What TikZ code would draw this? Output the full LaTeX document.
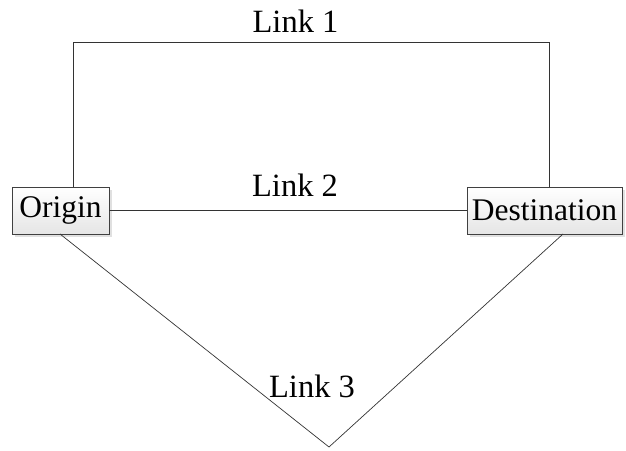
\documentclass[tikz,border=0pt]{standalone}
\usepackage{fontspec}
\setmainfont{Liberation Serif}
\usetikzlibrary{shadows,calc}
\begin{document}
\begin{tikzpicture}[x=1pt,y=1pt,
  endpoint/.style={draw=black!75, line width=0.8pt, top color=white, bottom color=black!10,
    drop shadow={shadow xshift=3pt, shadow yshift=-3pt, fill=black!12, opacity=1},
    inner sep=0pt, font=\fontsize{31.5}{34}\selectfont},
  link/.style={draw=black!80, line width=0.7pt},
  lbl/.style={font=\fontsize{32.5}{35}\selectfont, inner sep=0pt, anchor=base}]
\useasboundingbox (0,0) rectangle (626,450);
\node[endpoint, minimum width=97pt, minimum height=47pt] (origin) at (60.5,239.5) {Origin};
\node[endpoint, minimum width=155pt, minimum height=47pt] (dest) at (544.5,239.5) {Destination};
\coordinate (c1) at (73,408);
\coordinate (c2) at (549,408);
\coordinate (c3) at (329,3);
\draw[link] (origin.north -| c1) -- (c1) -- (c2) -- (dest.north -| c2);
\draw[link] (origin.east) -- (dest.west);
\draw[link] (60,216) -- (c3) -- (563,216);
\node[lbl] (l1) at (295.5,417) {Link 1};
\node[lbl] (l2) at (295,253) {Link 2};
\node[lbl] (l3) at (312,53) {Link 3};
\end{tikzpicture}
\end{document}
